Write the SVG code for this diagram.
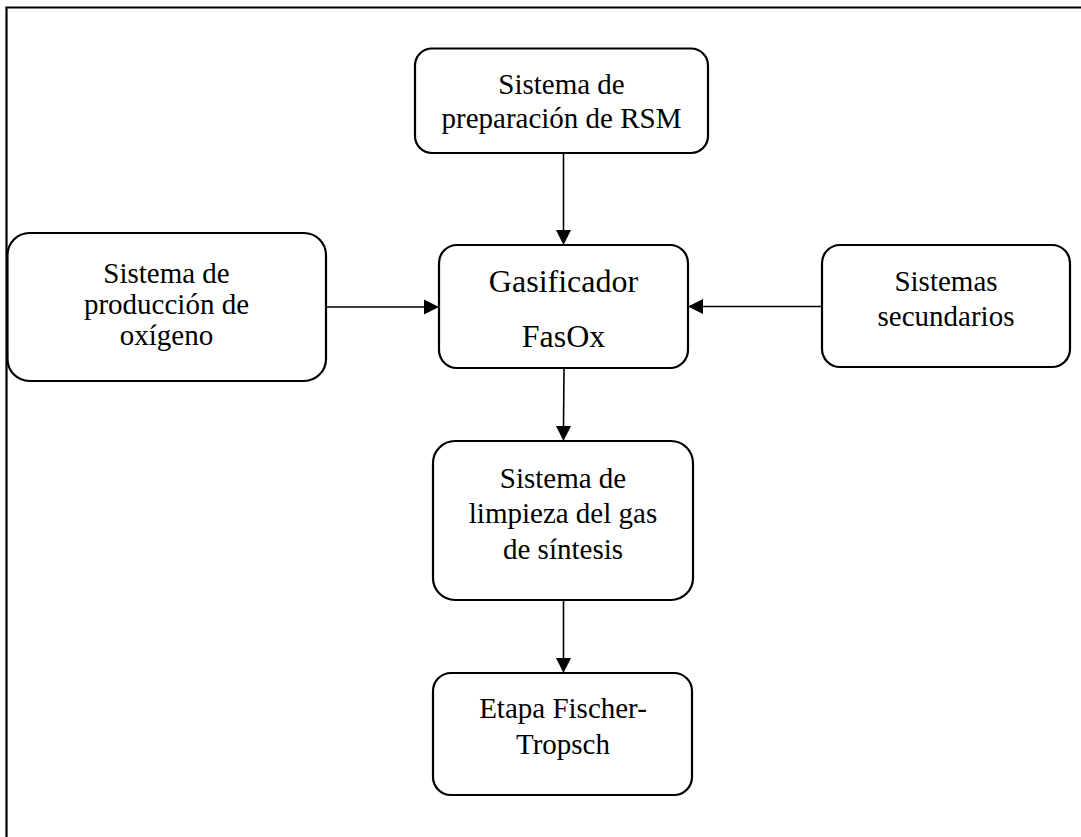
<svg xmlns="http://www.w3.org/2000/svg" width="1081" height="837" viewBox="0 0 1081 837">
<style>
.box{fill:#fff;stroke:#000;stroke-width:2.2}
.t{font-family:"Liberation Serif","Times New Roman",serif;font-size:29px;fill:#000;text-anchor:middle}
.tg{font-size:32px}
.c{stroke:#000;stroke-width:1.6;fill:none}
.frame{stroke:#000;stroke-width:2.2;fill:none}
</style>
<defs>
<marker id="ah" markerWidth="10" markerHeight="10" refX="10" refY="5" orient="auto" markerUnits="userSpaceOnUse" viewBox="0 0 10 10">
<path d="M0,0 L10,5 L0,10 z" fill="#000"/>
</marker>
</defs>
<rect width="1081" height="837" fill="#fff"/>
<path class="frame" d="M6.5,837 V7.5 H1081"/>
<g id="connectors">
<line class="c" x1="563.5" y1="153" x2="563.5" y2="231" />
<path d="M556,230 L571,230 L563.5,245 z"/>
<line class="c" x1="326" y1="307" x2="426" y2="307"/>
<path d="M424,299.5 L439,307 L424,314.5 z"/>
<line class="c" x1="822" y1="306.5" x2="702" y2="306.5"/>
<path d="M703,299 L688,306.5 L703,314 z"/>
<line class="c" x1="564" y1="368" x2="563.5" y2="427"/>
<path d="M556,426 L571,426 L563.5,441 z"/>
<line class="c" x1="563.5" y1="600" x2="563.5" y2="659"/>
<path d="M556,658 L571,658 L563.5,673 z"/>
</g>
<g id="rsm">
<rect class="box" x="415" y="48.5" width="293" height="104.5" rx="17"/>
<text class="t" x="561.5" y="94">Sistema de</text>
<text class="t" x="561.5" y="128">preparación de RSM</text>
</g>
<g id="oxigeno">
<rect class="box" x="7.5" y="233" width="318.5" height="148" rx="22"/>
<text class="t" x="166.5" y="283">Sistema de</text>
<text class="t" x="166.5" y="314">producción de</text>
<text class="t" x="166.5" y="345">oxígeno</text>
</g>
<g id="gasificador">
<rect class="box" x="439" y="245" width="249" height="123" rx="18"/>
<text class="t tg" x="563.5" y="292">Gasificador</text>
<text class="t tg" x="563.5" y="347">FasOx</text>
</g>
<g id="secundarios">
<rect class="box" x="822" y="245" width="248" height="122" rx="18"/>
<text class="t" x="946" y="291">Sistemas</text>
<text class="t" x="946" y="326">secundarios</text>
</g>
<g id="limpieza">
<rect class="box" x="433" y="441" width="260" height="159" rx="22"/>
<text class="t" x="563" y="488">Sistema de</text>
<text class="t" x="563" y="523">limpieza del gas</text>
<text class="t" x="563" y="559">de síntesis</text>
</g>
<g id="fischer">
<rect class="box" x="433" y="673" width="259" height="122" rx="18"/>
<text class="t" x="563" y="718">Etapa Fischer-</text>
<text class="t" x="563" y="754">Tropsch</text>
</g>
</svg>
